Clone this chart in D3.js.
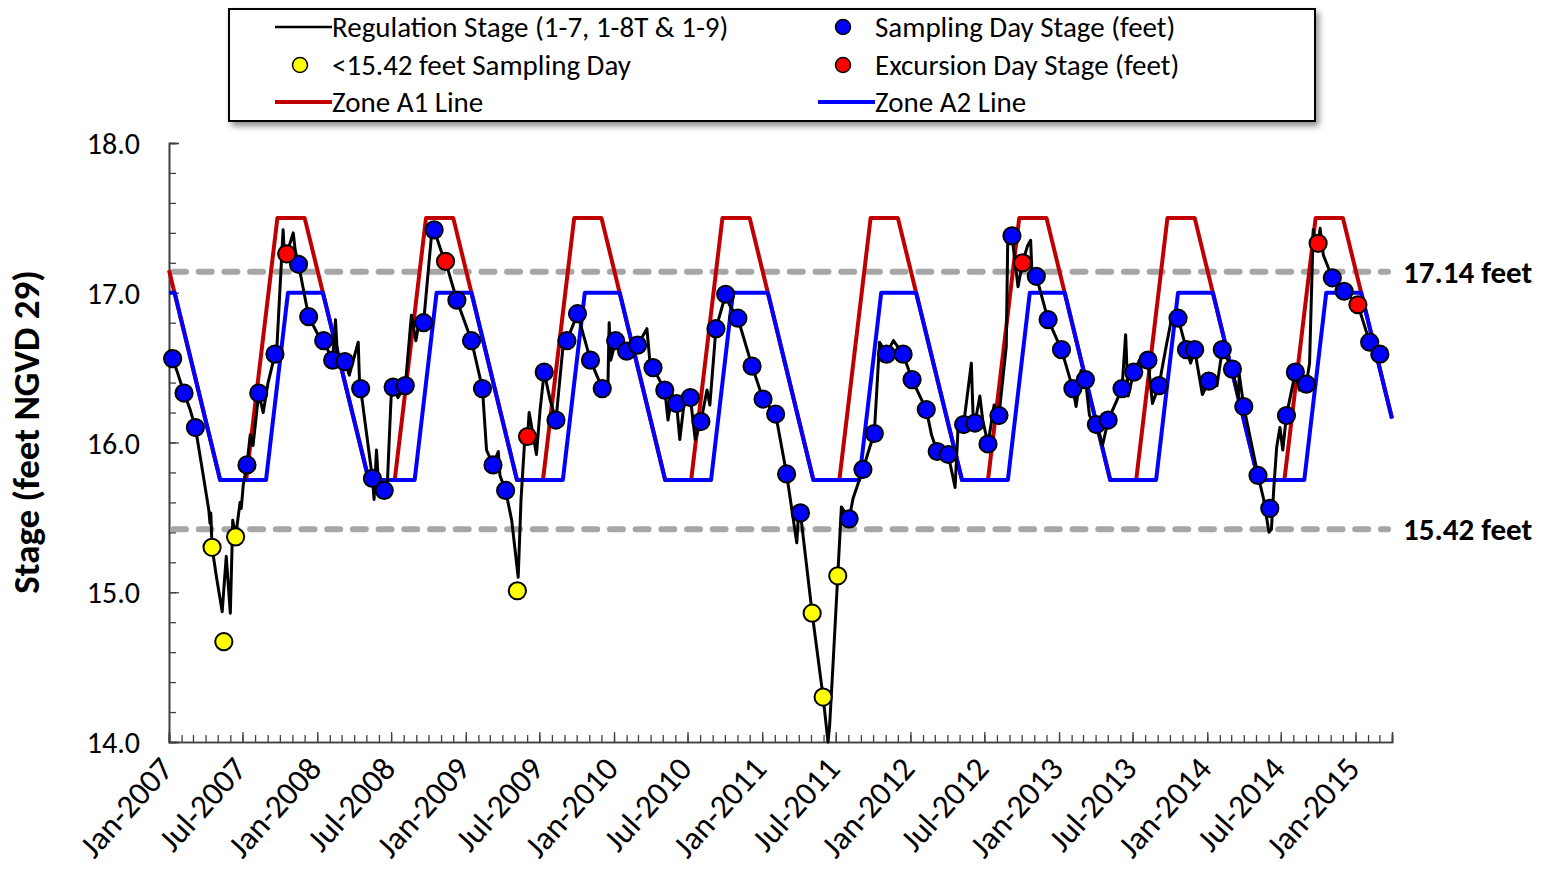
<!DOCTYPE html>
<html>
<head>
<meta charset="utf-8">
<script src="https://cdn.jsdelivr.net/npm/d3@7"></script>
<style>
  body { margin: 0; background: #ffffff; }
  svg { display: block; }
  text { font-family: Carlito, Lato, "Open Sans", sans-serif; fill: #000; }
</style>
</head>
<body>
<svg id="chart" width="1552" height="870"></svg>
<script>
// ---- Data -------------------------------------------------------------
// Daily regulation stage (feet NGVD 29), key readings
const regulationStage = [
  ["2007-01-01",16.62],["2007-01-10",16.56],["2007-01-24",16.45],["2007-02-07",16.33],
  ["2007-02-22",16.22],["2007-03-07",16.10],["2007-03-24",15.82],["2007-04-09",15.55],
  ["2007-04-12",15.46],["2007-04-14",15.53],["2007-04-17",15.30],["2007-04-28",15.10],
  ["2007-05-12",14.87],["2007-05-22",15.24],["2007-06-01",14.86],["2007-06-07",15.48],
  ["2007-06-14",15.37],["2007-06-25",15.60],["2007-06-28",15.56],["2007-07-03",15.72],
  ["2007-07-12",15.85],["2007-07-20",16.05],["2007-07-27",15.98],["2007-08-10",16.33],
  ["2007-08-21",16.20],["2007-09-02",16.40],["2007-09-19",16.59],["2007-09-24",16.65],
  ["2007-10-09",17.42],["2007-10-13",17.22],["2007-10-18",17.26],["2007-11-03",17.40],
  ["2007-11-08",17.28],["2007-11-16",17.19],["2007-12-11",16.84],["2008-01-03",16.72],
  ["2008-01-17",16.68],["2008-01-30",16.60],["2008-02-08",16.55],["2008-02-15",16.82],
  ["2008-02-21",16.52],["2008-03-09",16.54],["2008-03-20",16.45],["2008-04-11",16.67],
  ["2008-04-14",16.42],["2008-04-17",16.36],["2008-05-02",16.05],["2008-05-16",15.76],
  ["2008-05-20",15.62],["2008-05-26",15.95],["2008-05-31",15.72],["2008-06-14",15.68],
  ["2008-06-22",15.74],["2008-06-28",16.12],["2008-07-01",16.30],["2008-07-06",16.37],
  ["2008-07-18",16.30],["2008-08-05",16.38],["2008-08-20",16.85],["2008-08-31",16.68],
  ["2008-09-10",16.84],["2008-09-19",16.80],["2008-10-08",17.37],["2008-10-15",17.42],
  ["2008-11-06",17.24],["2008-11-12",17.21],["2008-12-10",16.95],["2009-01-15",16.68],
  ["2009-02-11",16.36],["2009-02-21",15.95],["2009-03-09",15.85],["2009-03-22",15.94],
  ["2009-03-26",15.78],["2009-04-09",15.68],["2009-04-24",15.48],["2009-05-10",15.10],
  ["2009-05-17",15.62],["2009-05-27",16.06],["2009-06-02",16.04],["2009-06-06",16.20],
  ["2009-06-24",15.92],["2009-07-03",16.22],["2009-07-13",16.47],["2009-07-28",16.28],
  ["2009-08-11",16.15],["2009-08-29",16.66],["2009-09-07",16.68],["2009-10-03",16.86],
  ["2009-11-04",16.55],["2009-12-03",16.36],["2009-12-17",16.38],["2009-12-20",16.80],
  ["2009-12-24",16.55],["2010-01-05",16.68],["2010-02-01",16.61],["2010-02-28",16.65],
  ["2010-03-23",16.76],["2010-03-30",16.55],["2010-04-07",16.50],["2010-05-06",16.35],
  ["2010-05-14",16.15],["2010-05-24",16.32],["2010-06-04",16.26],["2010-06-12",16.02],
  ["2010-06-22",16.25],["2010-07-08",16.30],["2010-07-20",16.02],["2010-08-03",16.14],
  ["2010-08-18",16.35],["2010-08-25",16.25],["2010-09-09",16.76],["2010-10-03",16.99],
  ["2010-10-12",16.92],["2010-11-02",16.83],["2010-12-07",16.51],["2011-01-03",16.29],
  ["2011-02-03",16.19],["2011-03-02",15.79],["2011-03-27",15.33],["2011-03-31",15.50],
  ["2011-04-05",15.53],["2011-05-04",14.86],["2011-05-31",14.30],["2011-06-12",14.00],
  ["2011-06-16",14.11],["2011-06-24",14.50],["2011-07-06",15.11],["2011-07-15",15.57],
  ["2011-08-03",15.49],["2011-08-13",15.63],["2011-09-06",15.82],["2011-09-23",15.97],
  ["2011-10-04",16.06],["2011-10-17",16.67],["2011-11-03",16.59],["2011-11-20",16.68],
  ["2011-12-14",16.59],["2012-01-05",16.42],["2012-02-09",16.22],["2012-02-22",16.05],
  ["2012-03-07",15.94],["2012-04-03",15.92],["2012-04-20",15.70],["2012-04-27",16.08],
  ["2012-05-11",16.12],["2012-05-30",16.53],["2012-06-03",16.20],["2012-06-08",16.13],
  ["2012-06-20",16.31],["2012-06-27",16.15],["2012-07-10",15.99],["2012-07-25",16.25],
  ["2012-08-06",16.18],["2012-08-24",16.64],["2012-08-28",17.42],["2012-09-07",17.38],
  ["2012-09-22",17.04],["2012-10-03",17.20],["2012-10-15",17.31],["2012-10-23",17.35],
  ["2012-10-27",17.09],["2012-11-06",17.11],["2012-12-05",16.82],["2013-01-07",16.62],
  ["2013-02-04",16.36],["2013-02-12",16.24],["2013-02-24",16.48],["2013-03-07",16.42],
  ["2013-03-17",16.18],["2013-04-03",16.12],["2013-04-18",15.98],["2013-05-02",16.15],
  ["2013-06-05",16.36],["2013-06-14",16.72],["2013-06-20",16.31],["2013-07-04",16.47],
  ["2013-07-18",16.55],["2013-08-08",16.55],["2013-08-19",16.26],["2013-09-04",16.38],
  ["2013-09-23",16.66],["2013-10-06",16.84],["2013-10-21",16.83],["2013-11-11",16.62],
  ["2013-11-21",16.53],["2013-12-01",16.62],["2013-12-20",16.32],["2014-01-05",16.41],
  ["2014-01-25",16.38],["2014-02-07",16.62],["2014-03-04",16.49],["2014-03-18",16.30],
  ["2014-03-21",16.45],["2014-04-01",16.24],["2014-05-06",15.78],["2014-05-20",15.62],
  ["2014-06-02",15.40],["2014-06-08",15.42],["2014-06-14",15.70],["2014-06-21",15.97],
  ["2014-06-29",16.10],["2014-07-06",15.95],["2014-07-15",16.18],["2014-08-06",16.47],
  ["2014-08-16",16.35],["2014-09-02",16.39],["2014-09-10",16.53],["2014-09-19",17.42],
  ["2014-09-25",17.30],["2014-10-01",17.33],["2014-10-06",17.43],["2014-10-14",17.25],
  ["2014-11-05",17.10],["2014-12-04",17.01],["2015-01-07",16.92],["2015-02-05",16.67],
  ["2015-03-02",16.59]
];

// Sampling day stage (feet)
const samplingDays = [
  ["2007-01-10",16.56],["2007-02-07",16.33],["2007-03-07",16.10],["2007-07-12",15.85],
  ["2007-08-10",16.33],["2007-09-19",16.59],["2007-11-16",17.19],["2007-12-11",16.84],
  ["2008-01-17",16.68],["2008-02-08",16.55],["2008-03-09",16.54],["2008-04-17",16.36],
  ["2008-05-16",15.76],["2008-06-14",15.68],["2008-07-06",16.37],["2008-08-05",16.38],
  ["2008-09-19",16.80],["2008-10-15",17.42],["2008-12-10",16.95],["2009-01-15",16.68],
  ["2009-02-11",16.36],["2009-03-09",15.85],["2009-04-09",15.68],["2009-07-13",16.47],
  ["2009-08-11",16.15],["2009-09-07",16.68],["2009-10-03",16.86],["2009-11-04",16.55],
  ["2009-12-03",16.36],["2010-01-05",16.68],["2010-02-01",16.61],["2010-02-28",16.65],
  ["2010-04-07",16.50],["2010-05-06",16.35],["2010-06-04",16.26],["2010-07-08",16.30],
  ["2010-08-03",16.14],["2010-09-09",16.76],["2010-10-03",16.99],["2010-11-02",16.83],
  ["2010-12-07",16.51],["2011-01-03",16.29],["2011-02-03",16.19],["2011-03-02",15.79],
  ["2011-04-05",15.53],["2011-08-03",15.49],["2011-09-06",15.82],["2011-10-04",16.06],
  ["2011-11-03",16.59],["2011-12-14",16.59],["2012-01-05",16.42],["2012-02-09",16.22],
  ["2012-03-07",15.94],["2012-04-03",15.92],["2012-05-11",16.12],["2012-06-08",16.13],
  ["2012-07-10",15.99],["2012-08-06",16.18],["2012-09-07",17.38],["2012-11-06",17.11],
  ["2012-12-05",16.82],["2013-01-07",16.62],["2013-02-04",16.36],["2013-03-07",16.42],
  ["2013-04-03",16.12],["2013-05-02",16.15],["2013-06-05",16.36],["2013-07-04",16.47],
  ["2013-08-08",16.55],["2013-09-04",16.38],["2013-10-21",16.83],["2013-11-11",16.62],
  ["2013-12-01",16.62],["2014-01-05",16.41],["2014-02-07",16.62],["2014-03-04",16.49],
  ["2014-04-01",16.24],["2014-05-06",15.78],["2014-06-04",15.56],["2014-07-15",16.18],
  ["2014-08-06",16.47],["2014-09-02",16.39],["2014-11-05",17.10],["2014-12-04",17.01],
  ["2015-02-05",16.67],["2015-03-02",16.59]
];

// Sampling days with stage below 15.42 feet
const lowSamplingDays = [
  ["2007-04-17",15.30],["2007-05-16",14.67],["2007-06-14",15.37],["2009-05-08",15.01],
  ["2011-05-04",14.86],["2011-05-31",14.30],["2011-07-06",15.11]
];

// Excursion day stage (feet)
const excursionDays = [
  ["2007-10-18",17.26],["2008-11-12",17.21],["2009-06-02",16.04],
  ["2012-10-03",17.20],["2014-10-01",17.33],["2015-01-07",16.92]
];

// Zone A1 schedule line vertices
const zoneA1 = [
  ["2007-01-01",17.15],["2007-05-07",15.75],["2007-07-10",15.75],["2007-09-25",17.50],
  ["2007-12-01",17.50],["2008-05-07",15.75],["2008-07-10",15.75],["2008-09-25",17.50],
  ["2008-12-01",17.50],["2009-05-07",15.75],["2009-07-10",15.75],["2009-09-25",17.50],
  ["2009-12-01",17.50],["2010-05-07",15.75],["2010-07-10",15.75],["2010-09-25",17.50],
  ["2010-12-01",17.50],["2011-05-07",15.75],["2011-07-10",15.75],["2011-09-25",17.50],
  ["2011-12-01",17.50],["2012-05-07",15.75],["2012-07-10",15.75],["2012-09-25",17.50],
  ["2012-12-01",17.50],["2013-05-07",15.75],["2013-07-10",15.75],["2013-09-25",17.50],
  ["2013-12-01",17.50],["2014-05-07",15.75],["2014-07-10",15.75],["2014-09-25",17.50],
  ["2014-12-01",17.50],["2015-04-01",16.16]
];

// Zone A2 schedule line vertices
const zoneA2 = [
  ["2007-01-01",17.00],["2007-01-15",17.00],["2007-05-07",15.75],["2007-08-28",15.75],
  ["2007-10-21",17.00],["2008-01-15",17.00],["2008-05-07",15.75],["2008-08-28",15.75],
  ["2008-10-21",17.00],["2009-01-15",17.00],["2009-05-07",15.75],["2009-08-28",15.75],
  ["2009-10-21",17.00],["2010-01-15",17.00],["2010-05-07",15.75],["2010-08-28",15.75],
  ["2010-10-21",17.00],["2011-01-15",17.00],["2011-05-07",15.75],["2011-08-28",15.75],
  ["2011-10-21",17.00],["2012-01-15",17.00],["2012-05-07",15.75],["2012-08-28",15.75],
  ["2012-10-21",17.00],["2013-01-15",17.00],["2013-05-07",15.75],["2013-08-28",15.75],
  ["2013-10-21",17.00],["2014-01-15",17.00],["2014-05-07",15.75],["2014-08-28",15.75],
  ["2014-10-21",17.00],["2015-01-15",17.00],["2015-04-01",16.16]
];

// Reference stage levels (feet)
const referenceLevels = [17.14, 15.42];
const referenceLabels = ["17.14 feet", "15.42 feet"];

const yTickValues = [14, 15, 16, 17, 18];
const xDomain = ["2007-01-01", "2015-04-01"];

const legendItems = [
  { label: "Regulation Stage (1-7, 1-8T & 1-9)", kind: "line", color: "#000000", col: 0, row: 0 },
  { label: "Sampling Day Stage (feet)", kind: "dot", color: "#0000ff", col: 1, row: 0 },
  { label: "<15.42 feet Sampling Day", kind: "dot", color: "#ffff00", col: 0, row: 1 },
  { label: "Excursion Day Stage (feet)", kind: "dot", color: "#ff0000", col: 1, row: 1 },
  { label: "Zone A1 Line", kind: "line", color: "#c00000", col: 0, row: 2 },
  { label: "Zone A2 Line", kind: "line", color: "#0000ff", col: 1, row: 2 }
];

// ---- Layout -----------------------------------------------------------
const svg = d3.select("#chart");
const parse = d3.timeParse("%Y-%m-%d");
const plot = { left: 169, right: 1392, top: 143, bottom: 742 };

const x = d3.scaleTime()
  .domain(xDomain.map(parse))
  .range([plot.left, plot.right]);
const y = d3.scaleLinear()
  .domain([14, 18])
  .range([plot.bottom, plot.top]);

const defs = svg.append("defs");
const shadow = defs.append("filter").attr("id", "legendShadow")
  .attr("x", "-5%").attr("y", "-20%").attr("width", "112%").attr("height", "150%");
shadow.append("feDropShadow")
  .attr("dx", 3).attr("dy", 4).attr("stdDeviation", 3)
  .attr("flood-color", "#000").attr("flood-opacity", 0.45);

// ---- Axes -------------------------------------------------------------
const axisColor = "#404040";

// Y axis: labelled whole feet, minor ticks every 0.2 ft, ticks drawn inward
const yMinor = svg.append("g").attr("transform", `translate(${plot.left},0)`)
  .call(d3.axisLeft(y).tickValues(d3.range(14, 18.001, 0.2)).tickSize(-7).tickFormat(""));
const yMajor = svg.append("g").attr("transform", `translate(${plot.left},0)`)
  .call(d3.axisLeft(y).tickValues(yTickValues).tickSize(-10).tickPadding(29).tickFormat(d3.format(".1f")));
[yMinor, yMajor].forEach(g => {
  g.select(".domain").attr("stroke", axisColor).attr("stroke-width", 1.6);
  g.selectAll(".tick line").attr("stroke", axisColor).attr("stroke-width", 1.3);
});
yMajor.selectAll(".tick text")
  .style("font-size", "30px").attr("fill", "#000").attr("dy", "0.35em");

// X axis: monthly minor ticks, Jan/Jul major ticks, ticks drawn inward
const xMinor = svg.append("g").attr("transform", `translate(0,${plot.bottom})`)
  .call(d3.axisBottom(x).ticks(d3.timeMonth.every(1)).tickSize(-7).tickFormat(""));
const xMajor = svg.append("g").attr("transform", `translate(0,${plot.bottom})`)
  .call(d3.axisBottom(x).ticks(d3.timeMonth.every(6)).tickSize(-10).tickFormat(""));
[xMinor, xMajor].forEach(g => {
  g.select(".domain").attr("stroke", axisColor).attr("stroke-width", 1.6);
  g.selectAll(".tick line").attr("stroke", axisColor).attr("stroke-width", 1.3);
});

const fmtMonth = d3.timeFormat("%b-%Y");
svg.append("g").selectAll("text")
  .data(x.ticks(d3.timeMonth.every(6)))
  .join("text")
  .attr("transform", d => `translate(${x(d) + 6},${plot.bottom + 28}) rotate(-48)`)
  .attr("text-anchor", "end")
  .style("font-size", "33px")
  .text(fmtMonth);

// Y axis title
svg.append("text")
  .attr("transform", `translate(39,432) rotate(-90)`)
  .attr("text-anchor", "middle")
  .style("font-size", "37px").style("font-weight", "bold")
  .text("Stage (feet NGVD 29)");

// ---- Reference levels -------------------------------------------------
svg.append("g").selectAll("line")
  .data(referenceLevels)
  .join("line")
  .attr("x1", plot.left + 4).attr("x2", plot.right - 4)
  .attr("y1", d => y(d)).attr("y2", d => y(d))
  .attr("stroke", "#a6a6a6").attr("stroke-width", 6)
  .attr("stroke-linecap", "round")
  .attr("stroke-dasharray", "13 12.7");

svg.append("g").selectAll("text")
  .data(referenceLevels)
  .join("text")
  .attr("x", 1403).attr("y", d => y(d)).attr("dy", "0.35em")
  .style("font-size", "31px").style("font-weight", "bold")
  .text((d, i) => referenceLabels[i]);

// ---- Series -----------------------------------------------------------
const line = d3.line().x(d => x(parse(d[0]))).y(d => y(d[1]));

svg.append("path").datum(zoneA1)
  .attr("d", line).attr("fill", "none")
  .attr("stroke", "#c00000").attr("stroke-width", 4).attr("stroke-linejoin", "round");
svg.append("path").datum(zoneA2)
  .attr("d", line).attr("fill", "none")
  .attr("stroke", "#0000ff").attr("stroke-width", 4).attr("stroke-linejoin", "round");

svg.append("path").datum(regulationStage)
  .attr("d", line).attr("fill", "none")
  .attr("stroke", "#000").attr("stroke-width", 3).attr("stroke-linejoin", "round");

function drawDots(data, color) {
  svg.append("g").selectAll("circle")
    .data(data)
    .join("circle")
    .attr("cx", d => x(parse(d[0])))
    .attr("cy", d => y(d[1]))
    .attr("r", 8.6)
    .attr("fill", color)
    .attr("stroke", "#000").attr("stroke-width", 2);
}
drawDots(samplingDays, "#0000ff");
drawDots(lowSamplingDays, "#ffff00");
drawDots(excursionDays, "#ff0000");

// ---- Legend -----------------------------------------------------------
const legend = svg.append("g");
legend.append("rect")
  .attr("x", 229).attr("y", 9).attr("width", 1086).attr("height", 112)
  .attr("fill", "#fff").attr("stroke", "#000").attr("stroke-width", 2)
  .attr("filter", "url(#legendShadow)");

const colX = [332, 875];
const rowY = [27, 65, 102];
const li = legend.selectAll("g.item").data(legendItems).join("g")
  .attr("transform", d => `translate(${colX[d.col]},${rowY[d.row]})`);
li.filter(d => d.kind === "line").append("line")
  .attr("x1", -57).attr("x2", 0).attr("y1", 0).attr("y2", 0)
  .attr("stroke", d => d.color)
  .attr("stroke-width", d => d.color === "#000000" ? 2.6 : 4);
li.filter(d => d.kind === "dot").append("circle")
  .attr("cx", -32).attr("cy", 0).attr("r", 7.5)
  .attr("fill", d => d.color).attr("stroke", "#000").attr("stroke-width", 1.5);
li.append("text")
  .attr("x", 0).attr("y", 0).attr("dy", "0.35em")
  .style("font-size", "29px")
  .text(d => d.label);
</script>
</body>
</html>
